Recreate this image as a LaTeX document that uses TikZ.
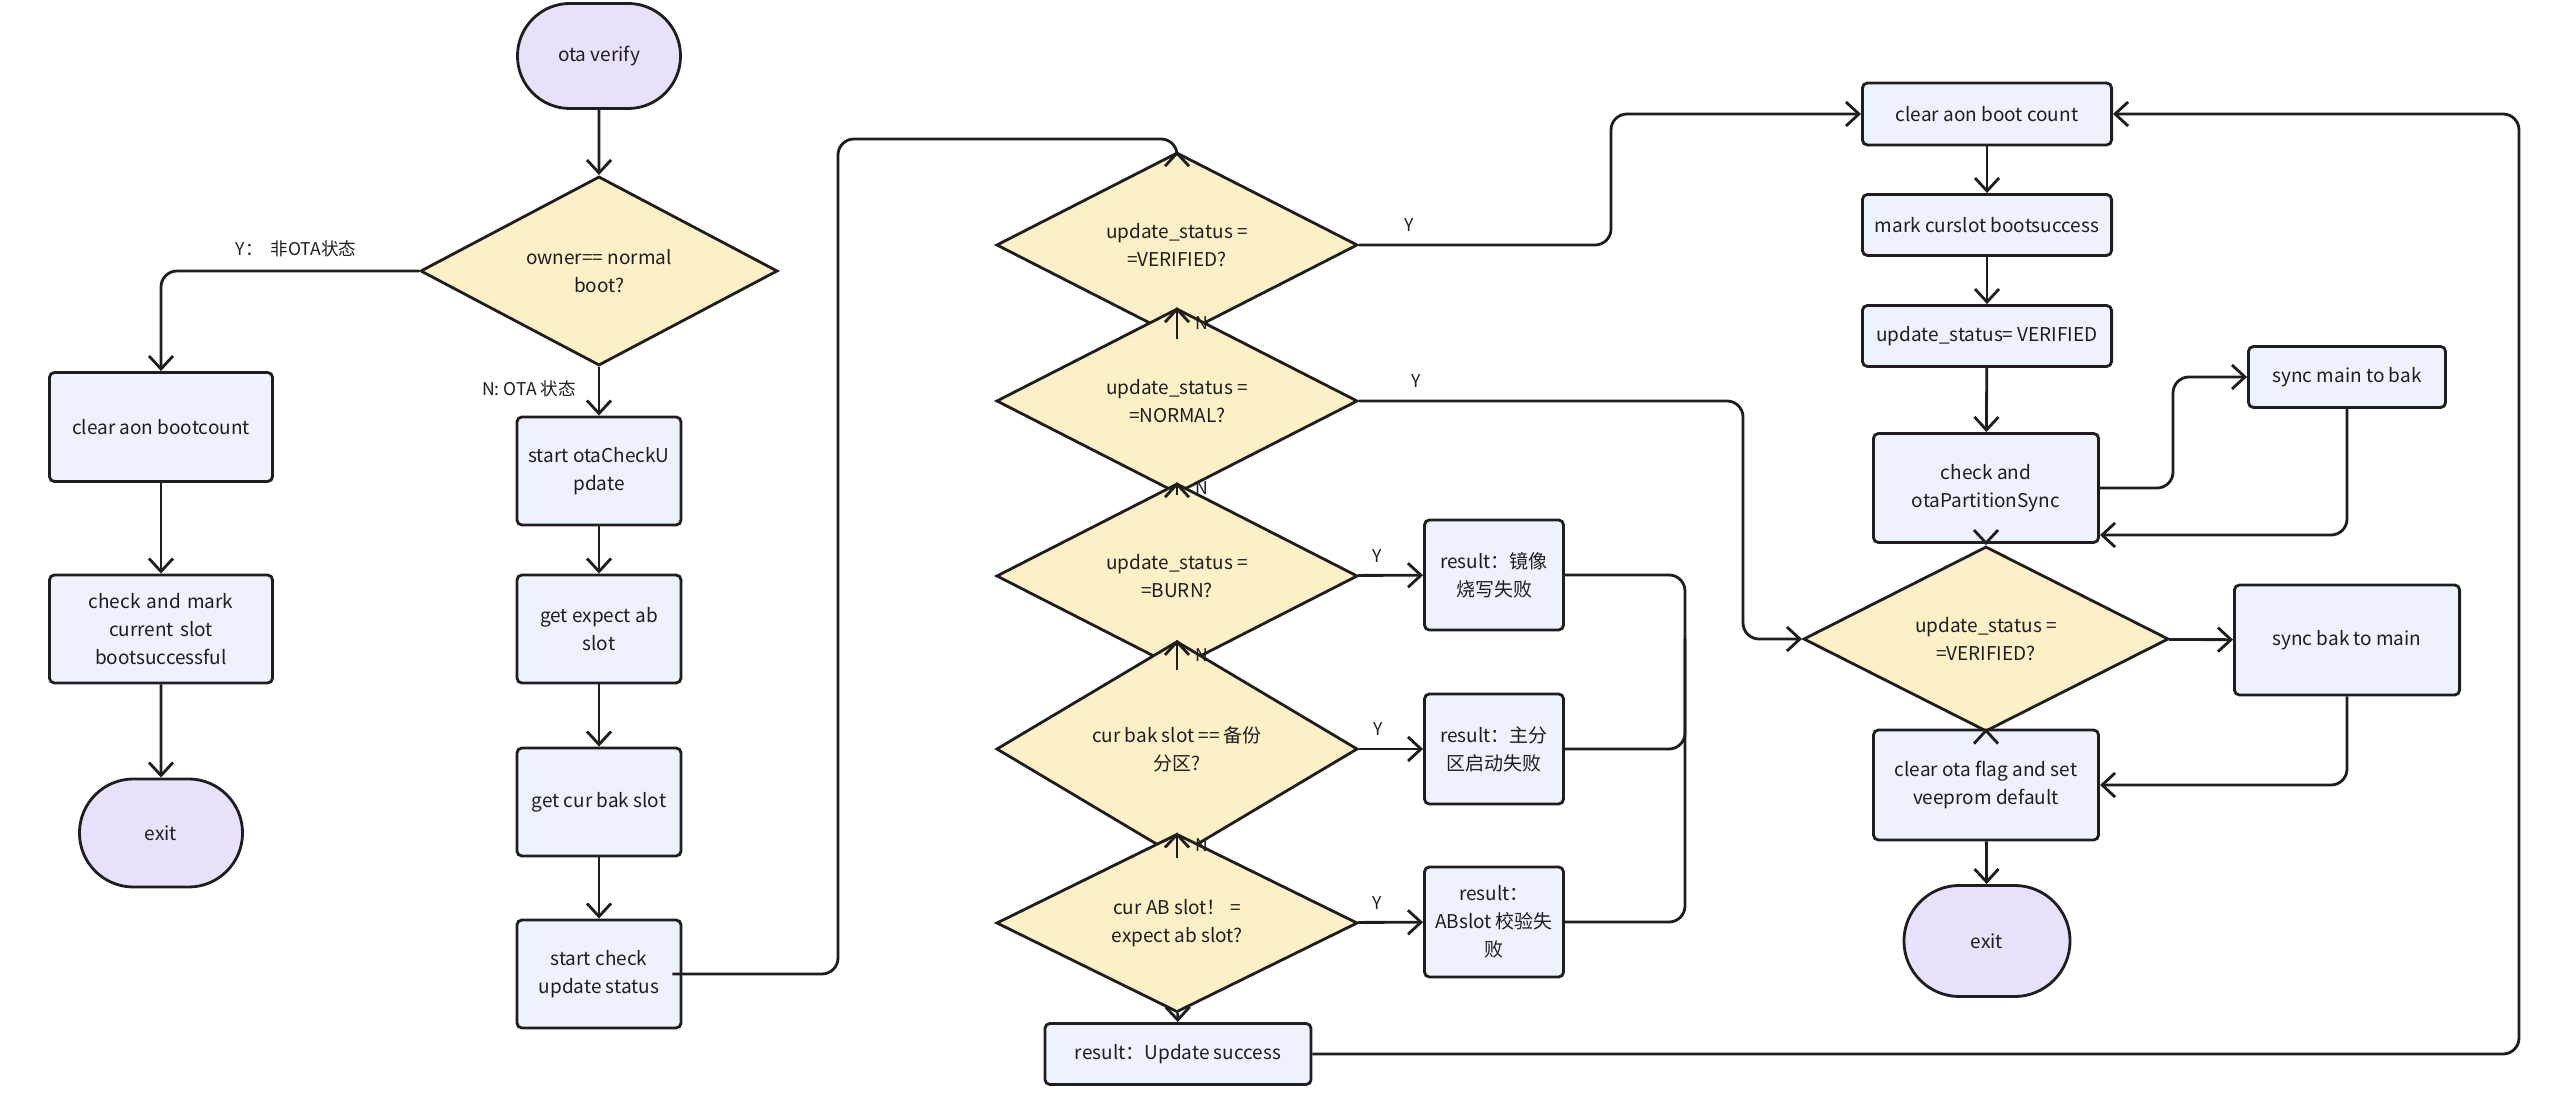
\documentclass[tikz,border=0pt]{standalone}
\usepackage{fontspec}
\newfontfamily\cjk{Noto Sans CJK SC}
\usetikzlibrary{shapes.geometric,shapes.misc,arrows.meta}
\definecolor{dfill}{HTML}{FDF0C6}
\definecolor{bfill}{HTML}{EEF2FD}
\definecolor{tfill}{HTML}{E9E1FB}
\definecolor{ink}{HTML}{1E1E1E}
\begin{document}
\begin{tikzpicture}[x=0.01cm,y=-0.01cm,
  every node/.style={font=\cjk\fontsize{5.4}{8}\selectfont,text=ink},
  box/.style={draw=ink,line width=0.8pt,fill=bfill,rounded corners=0.5mm,align=center,inner sep=1pt},
  dia/.style={draw=ink,line width=0.8pt,fill=dfill,diamond,align=center,inner sep=0pt},
  term/.style={draw=ink,line width=0.8pt,fill=tfill,rounded rectangle,align=center,inner sep=0pt},
  lab/.style={font=\cjk\fontsize{5}{7}\selectfont},
  ar/.style={draw=ink,line width=0.8pt,-{Straight Barb[length=1.3mm,width=2.4mm]},rounded corners=1.6mm},
  ln/.style={draw=ink,line width=0.8pt,rounded corners=1.6mm}]
\useasboundingbox (0,0) rectangle (2560,1104);
% left column
\node[term,minimum width=1.63cm,minimum height=1.05cm] (ota) at (599,56) {ota verify};
\node[dia,minimum width=3.57cm,minimum height=1.62cm] (own) at (599,271) {owner== normal\\boot?};
\node[box,minimum width=2.23cm,minimum height=1.09cm] (cab) at (161,427) {clear aon bootcount};
\node[box,minimum width=2.23cm,minimum height=1.08cm,text width=2cm] (cmk) at (161,629) {check and mark\\current slot\\bootsuccessful};
\node[term,minimum width=1.63cm,minimum height=1.08cm] (ex1) at (161,833) {exit};
\node[box,minimum width=1.64cm,minimum height=1.08cm] (sck) at (599,471) {start otaCheckU\\pdate};
\node[box,minimum width=1.64cm,minimum height=1.08cm] (gea) at (599,629) {get expect ab\\slot};
\node[box,minimum width=1.64cm,minimum height=1.08cm] (gcb) at (599,802) {get cur bak slot};
\node[box,minimum width=1.64cm,minimum height=1.08cm] (scu) at (599,974) {start check\\update status};
% middle column
\node[dia,minimum width=3.61cm,minimum height=1.06cm] (d1) at (1177,245) {update\_status =\\=VERIFIED?};
\node[dia,minimum width=3.61cm,minimum height=1.09cm] (d2) at (1177,401) {update\_status =\\=NORMAL?};
\node[dia,minimum width=3.61cm,minimum height=1.09cm] (d3) at (1177,576) {update\_status =\\=BURN?};
\node[dia,minimum width=3.61cm,minimum height=1.09cm] (d4) at (1177,749) {cur bak slot == 备份\\分区?};
\node[dia,minimum width=3.61cm,minimum height=1.09cm] (d5) at (1177,923) {cur AB slot！ =\\expect ab slot?};
\node[box,minimum width=2.66cm,minimum height=0.61cm] (us) at (1178,1054) {result：Update success};
\node[box,minimum width=1.39cm,minimum height=1.1cm] (r1) at (1494,575) {result：镜像\\烧写失败};
\node[box,minimum width=1.39cm,minimum height=1.1cm] (r2) at (1494,749) {result：主分\\区启动失败};
\node[box,minimum width=1.39cm,minimum height=1.1cm] (r3) at (1494,922) {result：\\ABslot 校验失\\败};
% right column
\node[box,minimum width=2.49cm,minimum height=0.62cm] (cbc) at (1987,114) {clear aon boot count};
\node[box,minimum width=2.49cm,minimum height=0.61cm] (mcs) at (1987,225) {mark curslot bootsuccess};
\node[box,minimum width=2.49cm,minimum height=0.61cm] (usv) at (1987,336) {update\_status= VERIFIED};
\node[box,minimum width=2.25cm,minimum height=1.09cm] (cps) at (1986,488) {check and\\otaPartitionSync};
\node[box,minimum width=1.97cm,minimum height=0.61cm] (smb) at (2347,377) {sync main to bak};
\node[dia,minimum width=3.65cm,minimum height=1.04cm] (d6) at (1986,639) {update\_status =\\=VERIFIED?};
\node[box,minimum width=2.25cm,minimum height=1.1cm] (sbm) at (2347,640) {sync bak to main};
\node[box,minimum width=2.25cm,minimum height=1.1cm] (cof) at (1986,785) {clear ota flag and set\\veeprom default};
\node[term,minimum width=1.66cm,minimum height=1.11cm] (ex2) at (1987,941) {exit};
% left connectors
\draw[ar] (ota) -- (own);
\draw[ar] (own.west) -| (cab.north);
\node[lab] (ly) at (296,249) {Y：\ \ 非OTA状态};
\draw[ar] (own) -- (sck) node[lab,pos=0.45,left=1mm] (ln1) {N: OTA 状态};
\draw[ar] (cab) -- (cmk);
\draw[ar] (cmk) -- (ex1);
\draw[ar] (sck) -- (gea);
\draw[ar] (gea) -- (gcb);
\draw[ar] (gcb) -- (scu);
\coordinate (t1) at (838,139);
\draw[ar] (scu.east) -- ++(6,0) -| (t1) -| (d1.north);
% middle connectors
\draw[ar] (d1) -- node[lab,right=0.5mm] {N} (d2);
\draw[ar] (d2) -- node[lab,right=0.5mm] {N} (d3);
\draw[ar] (d3) -- node[lab,right=0.5mm] {N} (d4);
\draw[ar] (d4) -- node[lab,right=0.5mm] {N} (d5);
\draw[ar] (d5) -- (us);
\draw[ar] (d3) -- node[lab,above,pos=0.3] {Y} (r1);
\draw[ar] (d4) -- node[lab,above,pos=0.3] {Y} (r2);
\draw[ar] (d5) -- node[lab,above,pos=0.3] {Y} (r3);
\coordinate (c1) at (1611,200);
\draw[ar] (d1.east) -- node[lab,above,pos=0.2] {Y} (d1.east -| c1) |- (cbc.west);
\coordinate (c2) at (1743,500);
\draw[ar] (d2.east) -- node[lab,above,pos=0.15] {Y} (d2.east -| c2) |- (d6.west);
\coordinate (c3) at (1685,700);
\draw[ln] (r1.east) -| (c3 |- d6.west);
\draw[ln] (r2.east) -| (c3 |- d6.west);
\draw[ln] (r3.east) -| (c3 |- d6.west);
\coordinate (c4) at (2519,500);
\draw[ar] (us.east) -| (c4) |- (cbc.east);
% right connectors
\draw[ar] (cbc) -- (mcs);
\draw[ar] (mcs) -- (usv);
\draw[ar] (usv) -- (cps);
\coordinate (c5) at (2173,450);
\draw[ar] (cps.east) -| (c5) |- (smb.west);
\draw[ar] (smb.south) |- (cps.east |- 0,535);
\draw[ar] (cps) -- (d6);
\draw[ar] (d6) -- (sbm);
\draw[ar] (d6) -- (cof);
\draw[ar] (sbm.south) |- (cof.east);
\draw[ar] (cof) -- (ex2);
\end{tikzpicture}
\end{document}
